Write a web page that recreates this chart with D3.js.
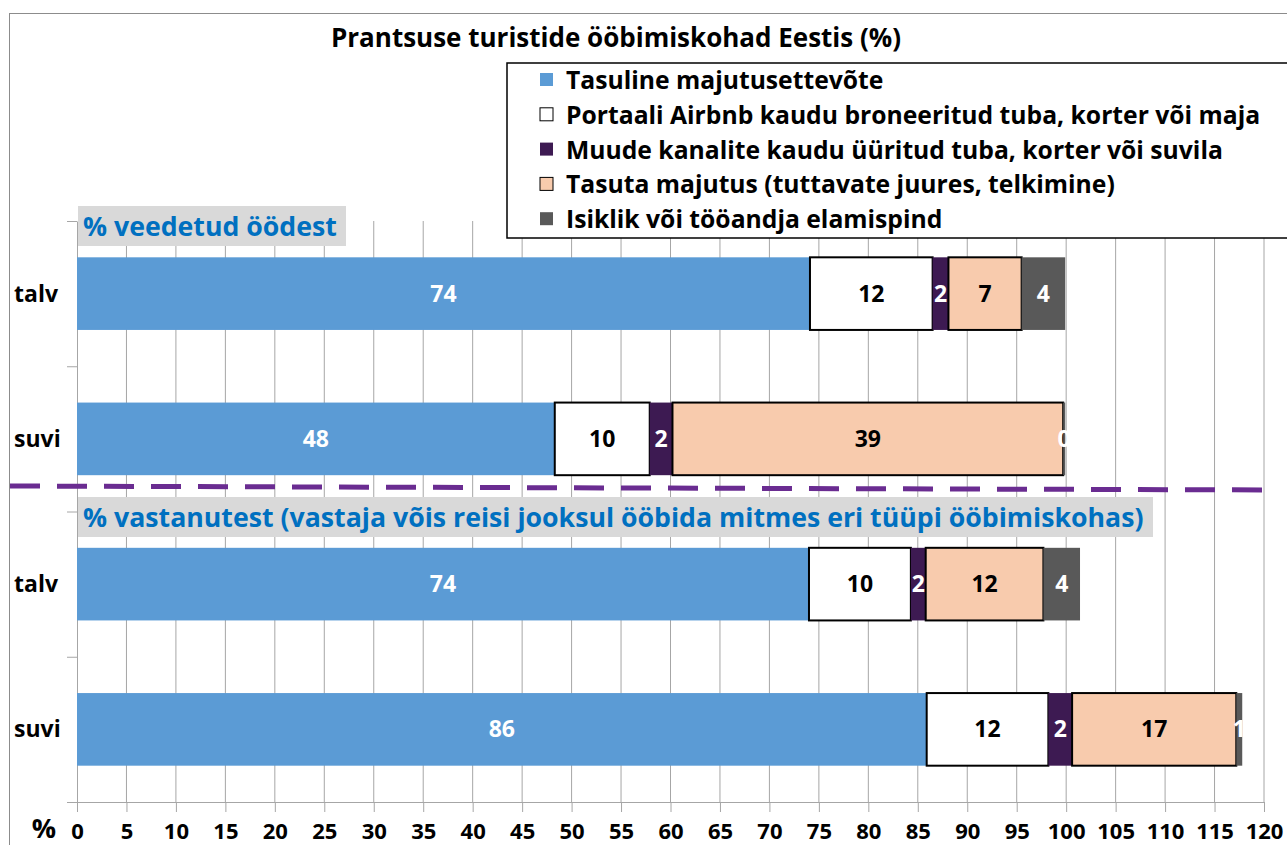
<!DOCTYPE html>
<html>
<head>
<meta charset="utf-8">
<script src="https://cdn.jsdelivr.net/npm/d3@7"></script>
<style>
  body { margin: 0; background: #fff; }
  svg { display: block; font-family: 'Open Sans', sans-serif; font-weight: bold; }
</style>
</head>
<body>
<svg id="chart" width="1287" height="845"></svg>
<script>
const rows = ['talv1', 'suvi1', 'talv2', 'suvi2']
const rowLabels = ['talv', 'suvi', 'talv', 'suvi']
const seriesNames = [
  'Tasuline majutusettevõte',
  'Portaali Airbnb kaudu broneeritud tuba, korter või maja',
  'Muude kanalite kaudu üüritud tuba, korter või suvila',
  'Tasuta majutus (tuttavate juures, telkimine)',
  'Isiklik või tööandja elamispind'
]
// one array per series, in row order
const paid = [74.1, 48.3, 74.0, 85.9]
const airbnb = [12.4, 9.6, 10.3, 12.3]
const otherRent = [1.6, 2.3, 1.5, 2.4]
const free = [7.4, 39.5, 11.9, 16.6]
const own = [4.4, 0.2, 3.7, 0.6]
const xTicks = d3.range(0, 121, 5)
const sectionTitles = ['% veedetud öödest', '% vastanutest (vastaja võis reisi jooksul ööbida mitmes eri tüüpi ööbimiskohas)']

const colors = ['#5b9bd5', '#ffffff', '#3d1a52', '#f8cbad', '#595959']
const labelColors = ['#fff', '#000', '#fff', '#000', '#fff']
const strokes = ['none', '#000', 'none', '#000', 'none']

const svg = d3.select('#chart')

const x = d3.scaleLinear().domain([0, 120]).range([77, 1264])
const y = d3.scaleBand().domain(rows).range([221, 802]).paddingInner(0.5).paddingOuter(0.25)
const yEdge = d3.scaleLinear().domain([0, 4]).range([221, 802])

// outer frame
svg.append('rect')
  .attr('x', 9.5).attr('y', 13.5).attr('width', 1290).attr('height', 850)
  .attr('fill', 'none').attr('stroke', '#8c8c8c').attr('stroke-width', 1)

// gridlines
svg.append('g').selectAll('line').data(xTicks.slice(1)).join('line')
  .attr('x1', d => x(d)).attr('x2', d => x(d))
  .attr('y1', 221).attr('y2', 802)
  .attr('stroke', '#a6a6a6').attr('stroke-width', 1)

// x axis
const xAxis = svg.append('g')
  .attr('transform', 'translate(0,802)')
  .call(d3.axisBottom(x).tickValues(xTicks).tickSize(10).tickPadding(11).tickSizeOuter(0))
xAxis.select('.domain').attr('stroke', '#a6a6a6')
xAxis.selectAll('.tick line').attr('stroke', '#a6a6a6')
xAxis.selectAll('.tick text')
  .attr('font-family', 'Open Sans').attr('font-weight', 'bold').attr('font-size', 22).attr('fill', '#000')

svg.append('text')
  .attr('x', 44).attr('y', 838)
  .attr('text-anchor', 'middle').attr('font-size', 27).text('%')

// y axis (category edges)
const yAxis = svg.append('g')
  .attr('transform', 'translate(77,0)')
  .call(d3.axisLeft(yEdge).ticks(4).tickSize(10).tickFormat('').tickSizeOuter(0))
yAxis.select('.domain').attr('stroke', '#a6a6a6')
yAxis.selectAll('.tick line').attr('stroke', '#a6a6a6')

// section label boxes
const sectionY = [206, 497]
const sectionW = [268, 1075]
sectionTitles.forEach(function (t, i) {
  svg.append('rect')
    .attr('x', 78).attr('y', sectionY[i]).attr('width', sectionW[i]).attr('height', 40)
    .attr('fill', '#d9d9d9')
  svg.append('text')
    .attr('x', 83).attr('y', sectionY[i] + 30)
    .attr('fill', '#0070c0').attr('font-size', 26.7)
    .text(t)
})

// stacked bars
const table = rows.map((r, i) => ({ row: r, vals: [paid[i], airbnb[i], otherRent[i], free[i], own[i]] }))
const stacked = d3.stack().keys(d3.range(5)).value((d, k) => d.vals[k])(table)

stacked.forEach(function (layer, k) {
  const g = svg.append('g').attr('class', 'series-' + k)
  g.selectAll('rect').data(layer).join('rect')
    .attr('x', d => x(d[0]))
    .attr('y', d => y(d.data.row))
    .attr('width', d => x(d[1]) - x(d[0]))
    .attr('height', y.bandwidth())
    .attr('fill', colors[k])
    .attr('stroke', strokes[k])
    .attr('stroke-width', 2)
})
stacked.forEach(function (layer, k) {
  svg.append('g').selectAll('text').data(layer).join('text')
    .attr('x', d => (x(d[0]) + x(d[1])) / 2)
    .attr('y', d => y(d.data.row) + y.bandwidth() / 2 + 8)
    .attr('text-anchor', 'middle')
    .attr('font-size', 23)
    .attr('fill', labelColors[k])
    .text(d => Math.round(d[1] - d[0]))
})

// row labels
rows.forEach(function (r, i) {
  svg.append('text')
    .attr('x', 14).attr('y', y(r) + y.bandwidth() / 2 + 8)
    .attr('font-size', 23).text(rowLabels[i])
})

// dashed separator
svg.append('line')
  .attr('x1', 10).attr('y1', 486).attr('x2', 1272).attr('y2', 490)
  .attr('stroke', '#6a2c91').attr('stroke-width', 5).attr('stroke-dasharray', '30,17')

// title
svg.append('text')
  .attr('x', 616).attr('y', 47).attr('text-anchor', 'middle')
  .attr('font-size', 26).text('Prantsuse turistide ööbimiskohad Eestis (%)')

// legend
const legend = svg.append('g')
legend.append('rect')
  .attr('x', 507).attr('y', 63).attr('width', 800).attr('height', 175)
  .attr('fill', '#fff').attr('stroke', '#000').attr('stroke-width', 1.5)
seriesNames.forEach(function (name, k) {
  const ly = 80 + k * 34.8
  legend.append('rect')
    .attr('x', 540).attr('y', ly - 7).attr('width', 13).attr('height', 13)
    .attr('fill', colors[k]).attr('stroke', k === 1 || k === 3 ? '#000' : 'none').attr('stroke-width', 1)
  legend.append('text')
    .attr('x', 566).attr('y', ly + 9)
    .attr('font-size', 24.7).text(name)
})
</script>
</body>
</html>
